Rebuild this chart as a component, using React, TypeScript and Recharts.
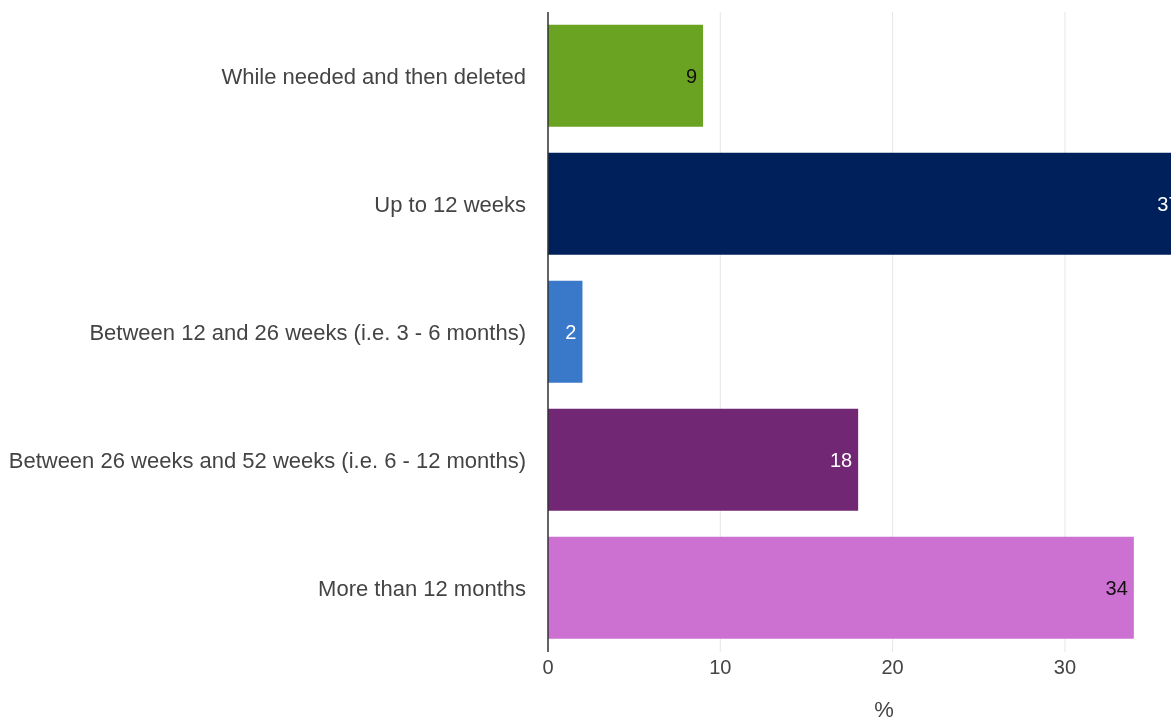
import { BarChart, Bar, XAxis, YAxis, CartesianGrid, Cell, LabelList } from "recharts";

const categories = [
  "While needed and then deleted",
  "Up to 12 weeks",
  "Between 12 and 26 weeks (i.e. 3 - 6 months)",
  "Between 26 weeks and 52 weeks (i.e. 6 - 12 months)",
  "More than 12 months",
];
const values = [9, 37, 2, 18, 34];
const barColors = ["#6aa221", "#00205b", "#3a78c9", "#712774", "#cc70d1"];
const labelColors = ["#111111", "#ffffff", "#ffffff", "#ffffff", "#111111"];
const xTicks = [0, 10, 20, 30];

const data = categories.map((name, i) => ({ name, value: values[i] }));

const FONT = "'Liberation Sans', Arial, sans-serif";

function ValueLabel(props: any) {
  const { x, y, width, height, value, index } = props;
  return (
    <text
      x={x + width - 6}
      y={y + height / 2}
      textAnchor="end"
      dominantBaseline="central"
      fontSize={20}
      fontFamily={FONT}
      fill={labelColors[index]}
    >
      {value}
    </text>
  );
}

export default function App() {
  return (
    <div
      style={{
        position: "fixed",
        left: 8,
        top: 8,
        width: 1163,
        height: 709,
        overflow: "hidden",
      }}
    >
      <BarChart
        width={1212}
        height={709}
        data={data}
        layout="vertical"
        barCategoryGap="10%"
        margin={{ top: 4, right: 0, bottom: 0, left: 0 }}
      >
        <CartesianGrid horizontal={false} stroke="#e6e6e6" />
        <XAxis
          type="number"
          domain={[0, 39]}
          ticks={xTicks}
          axisLine={false}
          tickLine={false}
          tickSize={6}
          tickMargin={2}
          height={65}
          tick={{ fontSize: 20, fill: "#444", fontFamily: FONT }}
          label={{
            value: "%",
            position: "insideBottom",
            offset: 0,
            fontSize: 22,
            fill: "#444",
            fontFamily: FONT,
          }}
        />
        <YAxis
          type="category"
          dataKey="name"
          width={540}
          axisLine={{ stroke: "#333", strokeWidth: 1.5 }}
          tickLine={false}
          tickSize={12}
          tickMargin={10}
          tick={{ fontSize: 22, fill: "#444", fontFamily: FONT }}
        />
        <Bar dataKey="value" isAnimationActive={false}>
          {data.map((d, i) => (
            <Cell key={d.name} fill={barColors[i]} />
          ))}
          <LabelList dataKey="value" content={ValueLabel} />
        </Bar>
      </BarChart>
    </div>
  );
}
